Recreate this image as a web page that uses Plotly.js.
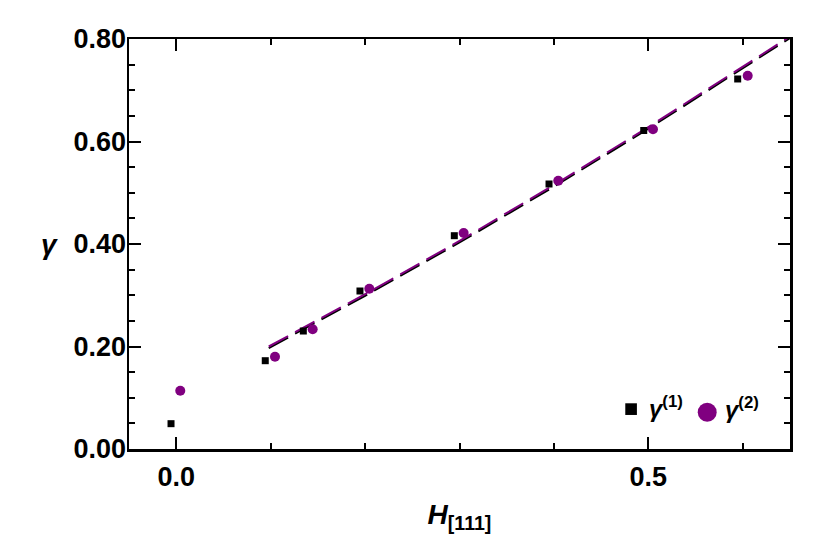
<!DOCTYPE html>
<html>
<head>
<meta charset="utf-8">
<script src="https://cdn.plot.ly/plotly-3.0.1.min.js"></script>
<style>html,body{margin:0;padding:0;background:#fff;}#chart{width:830px;height:534px;}</style>
</head>
<body>
<div id="chart"></div>
<script>
// gamma(1): black squares
const g1X = [-0.0055, 0.0943, 0.1346, 0.1946, 0.2945, 0.3948, 0.4951, 0.5946];
const g1Y = [0.0494, 0.1723, 0.2302, 0.3083, 0.4162, 0.5171, 0.6215, 0.7220];
// gamma(2): purple circles
const g2X = [0.0043, 0.1046, 0.1445, 0.2045, 0.3044, 0.4046, 0.5049, 0.6052];
const g2Y = [0.1138, 0.1801, 0.2338, 0.3128, 0.4215, 0.5235, 0.6238, 0.7284];
// dashed fit curves
const fitX = [0.098, 0.2, 0.3, 0.4, 0.5, 0.6, 0.65];
const fit1Y = [0.197, 0.299, 0.403, 0.512, 0.625, 0.742, 0.802];
const fit2Y = [0.200, 0.302, 0.406, 0.515, 0.628, 0.745, 0.805];

const xTickVals = [0.0, 0.5];
const xTickText = ['0.0', '0.5'];
const yTickVals = [0.0, 0.2, 0.4, 0.6, 0.8];
const yTickText = ['0.00', '0.20', '0.40', '0.60', '0.80'];

const PURPLE = '#800080';
const FONT = 'Liberation Sans, Arial, sans-serif';

const traces = [
  {x: fitX, y: fit1Y, mode: 'lines', line: {color: '#000', width: 2, dash: '22px,8px'}, hoverinfo: 'skip'},
  {x: fitX, y: fit2Y, mode: 'lines', line: {color: PURPLE, width: 2, dash: '22px,8px'}, hoverinfo: 'skip'},
  {x: g1X, y: g1Y, mode: 'markers', marker: {symbol: 'square', size: 7, color: '#000'}},
  {x: g2X, y: g2Y, mode: 'markers', marker: {symbol: 'circle', size: 10, color: PURPLE}}
];

const axisCommon = {
  showline: true, linecolor: '#000', linewidth: 2.5, mirror: 'allticks',
  ticks: 'inside', ticklen: 12, tickwidth: 2, tickcolor: '#000',
  showgrid: false, zeroline: false,
  tickfont: {family: FONT, size: 27, color: '#000', weight: 'bold'}
};

const layout = {
  width: 830, height: 534,
  margin: {l: 129, r: 40, t: 39, b: 85},
  paper_bgcolor: '#fff', plot_bgcolor: '#fff',
  showlegend: false,
  xaxis: Object.assign({}, axisCommon, {
    range: [-0.05, 0.65], tickmode: 'array', tickvals: xTickVals, ticktext: xTickText,
    minor: {dtick: 0.1, tick0: 0, ticks: 'inside', ticklen: 6, tickwidth: 2, tickcolor: '#000', showgrid: false},
    ticklabelstandoff: 2,
    title: {text: '<b><i>H</i><sub>[111]</sub></b>', font: {family: FONT, size: 28, color: '#000'}, standoff: 14}
  }),
  yaxis: Object.assign({}, axisCommon, {
    range: [0, 0.8], tickmode: 'array', tickvals: yTickVals, ticktext: yTickText,
    minor: {dtick: 0.05, tick0: 0, ticks: 'inside', ticklen: 6, tickwidth: 2, tickcolor: '#000', showgrid: false},
    ticklabelstandoff: -5
  }),
  shapes: [
    {type: 'rect', xref: 'paper', yref: 'paper', x0: 0.7508, x1: 0.7684, y0: 0.0830, y1: 0.1115, fillcolor: '#000', line: {width: 0}},
    {type: 'circle', xref: 'paper', yref: 'paper', x0: 0.8604, x1: 0.8891, y0: 0.0666, y1: 0.1129, fillcolor: PURPLE, line: {width: 0}}
  ],
  annotations: [
    {xref: 'paper', yref: 'paper', x: -0.12, y: 0.50, xanchor: 'center', yanchor: 'middle', showarrow: false,
     text: '<b><i>γ</i></b>', font: {family: FONT, size: 28, color: '#000'}},
    {xref: 'paper', yref: 'paper', x: 0.7840, y: 0.103, xanchor: 'left', yanchor: 'middle', showarrow: false,
     text: '<b><i>γ</i><sup>(1)</sup></b>', font: {family: FONT, size: 24, color: '#000'}},
    {xref: 'paper', yref: 'paper', x: 0.8980, y: 0.099, xanchor: 'left', yanchor: 'middle', showarrow: false,
     text: '<b><i>γ</i><sup>(2)</sup></b>', font: {family: FONT, size: 24, color: '#000'}}
  ]
};

Plotly.newPlot('chart', traces, layout, {displayModeBar: false, staticPlot: true});
</script>
</body>
</html>
